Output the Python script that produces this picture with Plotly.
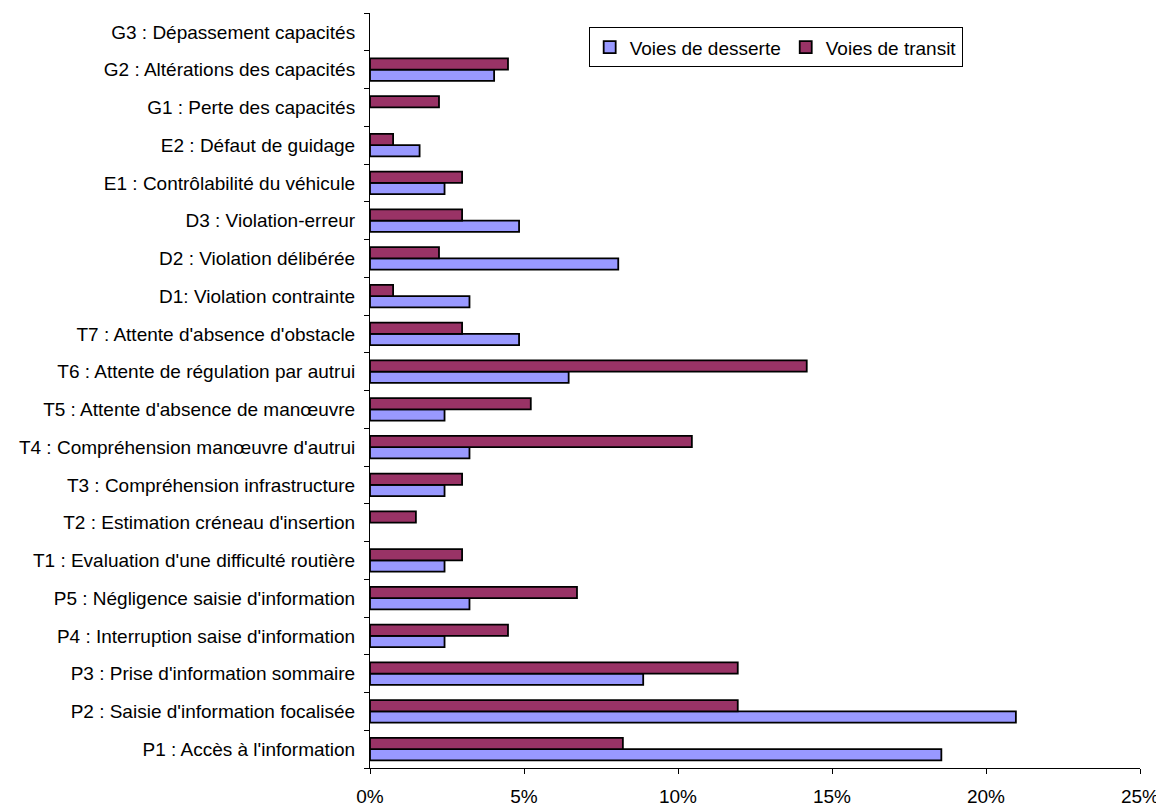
import plotly.graph_objects as go

categories = [
    "P1 : Accès à l'information",
    "P2 : Saisie d'information focalisée",
    "P3 : Prise d'information sommaire",
    "P4 : Interruption saise d'information",
    "P5 : Négligence saisie d'information",
    "T1 : Evaluation d'une difficulté routière",
    "T2 : Estimation créneau d'insertion",
    "T3 : Compréhension infrastructure",
    "T4 : Compréhension manœuvre d'autrui",
    "T5 : Attente d'absence de manœuvre",
    "T6 : Attente de régulation par autrui",
    "T7 : Attente d'absence d'obstacle",
    "D1: Violation contrainte",
    "D2 : Violation délibérée",
    "D3 : Violation-erreur",
    "E1 : Contrôlabilité du véhicule",
    "E2 : Défaut de guidage",
    "G1 : Perte des capacités",
    "G2 : Altérations des capacités",
    "G3 : Dépassement capacités",
]

desserte = [18.55, 20.97, 8.87, 2.42, 3.23, 2.42, 0.0, 2.42, 3.23, 2.42,
            6.45, 4.84, 3.23, 8.06, 4.84, 2.42, 1.61, 0.0, 4.03, 0.0]
transit = [8.21, 11.94, 11.94, 4.48, 6.72, 2.99, 1.49, 2.99, 10.45, 5.22,
           14.18, 2.99, 0.75, 2.24, 2.99, 2.99, 0.75, 2.24, 4.48, 0.0]

x_ticks = [0, 5, 10, 15, 20, 25]

FONT = "Liberation Sans, Arial, sans-serif"


def hide_zero(vals):
    return [v if v > 0 else None for v in vals]


fig = go.Figure()
fig.add_trace(go.Bar(
    y=categories, x=hide_zero(desserte), orientation="h", name="Voies de desserte",
    marker=dict(color="#9999FF", line=dict(color="black", width=1.8)),
))
fig.add_trace(go.Bar(
    y=categories, x=hide_zero(transit), orientation="h", name="Voies de transit",
    marker=dict(color="#993366", line=dict(color="black", width=1.8)),
))

# the page body has an 8px default margin, so the figure is 8px smaller
fig.update_layout(
    width=1156, height=799,
    margin=dict(l=362, r=24, t=5, b=39, pad=0, autoexpand=False),
    paper_bgcolor="white", plot_bgcolor="white",
    barmode="group", bargap=0.4, bargroupgap=0,
    font=dict(family=FONT, size=19, color="black"),
    showlegend=True,
    legend=dict(
        orientation="h", x=0.284, y=0.981, xanchor="left", yanchor="top",
        bordercolor="black", borderwidth=1, bgcolor="white",
        font=dict(family=FONT, size=19, color="black"),
        itemwidth=30, traceorder="normal",
    ),
)
fig.update_xaxes(
    range=[0, 25], tickvals=x_ticks, ticktext=[f"{v}%" for v in x_ticks],
    showgrid=False, zeroline=False, showline=True, linecolor="black", linewidth=1,
    ticks="outside", ticklen=5, tickcolor="black", ticklabelstandoff=6,
    automargin=False,
    tickfont=dict(family=FONT, size=19, color="black"),
)
fig.update_yaxes(
    type="category", categoryorder="array", categoryarray=categories,
    showgrid=False, zeroline=False, showline=True, linecolor="black", linewidth=1,
    ticks="outside", ticklen=5, tickcolor="black", tickson="boundaries",
    ticklabelstandoff=10, automargin=False,
    tickfont=dict(family=FONT, size=19, color="black"),
)

fig.write_html("out.html")
